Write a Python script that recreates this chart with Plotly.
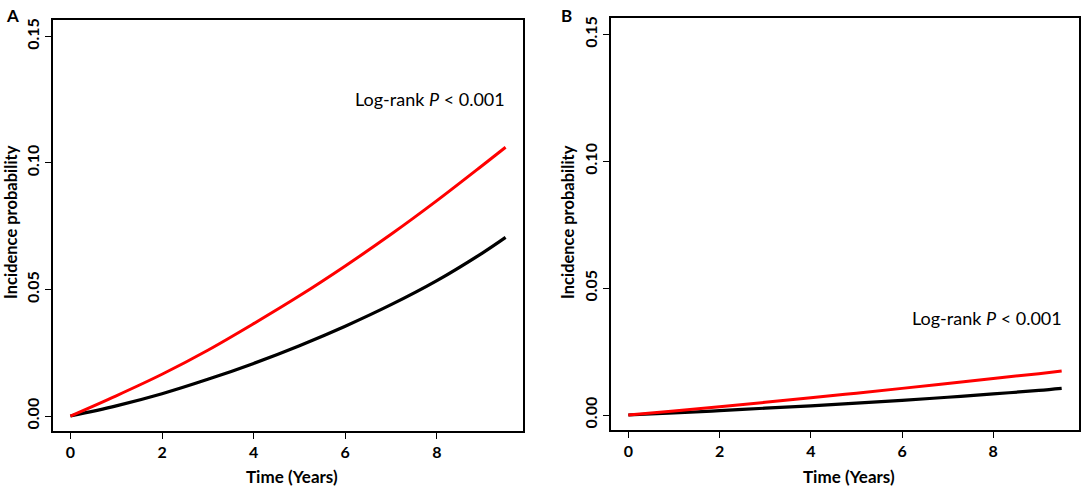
import plotly.graph_objects as go
from plotly.subplots import make_subplots

# Time points (years)
time_years = [0, 1, 2, 3, 4, 5, 6, 7, 8, 9, 9.5]

# Panel A cumulative incidence
a_red = [0, 0.008, 0.0165, 0.026, 0.0365, 0.0475, 0.0593, 0.0718, 0.0851, 0.0991, 0.1062]
a_black = [0, 0.004, 0.0088, 0.0145, 0.0208, 0.0278, 0.0355, 0.044, 0.0535, 0.0645, 0.0706]

# Panel B cumulative incidence
b_red = [0, 0.0016, 0.0033, 0.005, 0.0068, 0.0086, 0.0105, 0.0124, 0.0144, 0.0163, 0.0173]
b_black = [0, 0.0008, 0.0017, 0.0027, 0.0036, 0.0047, 0.0058, 0.007, 0.0083, 0.0097, 0.0105]

x_ticks = [0, 2, 4, 6, 8]
x_tick_labels = ["0", "2", "4", "6", "8"]
y_ticks = [0, 0.05, 0.10, 0.15]
y_tick_labels = ["0.00", "0.05", "0.10", "0.15"]

FONT = "Lato"
W, H = 1084, 487

fig = make_subplots(rows=1, cols=2)

for col, (red, black) in enumerate([(a_red, a_black), (b_red, b_black)], start=1):
    fig.add_trace(go.Scatter(x=time_years, y=black, mode="lines", line=dict(color="black", width=3.2, shape="spline"),
                             showlegend=False), row=1, col=col)
    fig.add_trace(go.Scatter(x=time_years, y=red, mode="lines", line=dict(color="#FF0000", width=3, shape="spline"),
                             showlegend=False), row=1, col=col)

axis_common = dict(showline=True, mirror=True, linecolor="black", linewidth=2, showgrid=False, zeroline=False,
                   ticks="outside", ticklen=6, tickwidth=1.2, tickcolor="black",
                   tickfont=dict(family=FONT, size=16, color="black"))

fig.update_xaxes(range=[-0.38, 9.88], tickvals=x_ticks, ticktext=["<b>%s</b>" % t for t in x_tick_labels],
                 **axis_common)
fig.update_yaxes(range=[-0.006, 0.1565], tickvals=y_ticks, ticktext=["<b>%s</b>" % t for t in y_tick_labels],
                 tickangle=-90, **axis_common)


def fx(x):
    return x / W


def fy(y):
    return 1 - y / H


fig.update_layout(xaxis=dict(domain=[fx(53), fx(523)]), xaxis2=dict(domain=[fx(611), fx(1079)]),
                  yaxis=dict(domain=[fy(431), fy(18)]), yaxis2=dict(domain=[fy(430), fy(16)]))


def px(x, y):
    return dict(x=fx(x), y=fy(y), xref="paper", yref="paper", showarrow=False,
                xanchor="center", yanchor="middle")


annos = [
    dict(text="<b>A</b>", font=dict(size=17, family=FONT, color="black"), **px(12, 14)),
    dict(text="<b>B</b>", font=dict(size=17, family=FONT, color="black"), **px(566, 14)),
    dict(text="Log-rank <i>P</i> &lt; 0.001", font=dict(size=18, family=FONT, color="black"), **px(430, 97)),
    dict(text="Log-rank <i>P</i> &lt; 0.001", font=dict(size=18, family=FONT, color="black"), **px(987, 317)),
    dict(text="<b>Time (Years)</b>", font=dict(size=17, family=FONT, color="black"), **px(292, 476)),
    dict(text="<b>Time (Years)</b>", font=dict(size=17, family=FONT, color="black"), **px(849, 476)),
    dict(text="<b>Incidence probability</b>", textangle=-90, font=dict(size=16.5, family=FONT, color="black"),
         **px(11, 221)),
    dict(text="<b>Incidence probability</b>", textangle=-90, font=dict(size=16.5, family=FONT, color="black"),
         **px(568, 221)),
]
fig.update_layout(annotations=annos)

fig.update_layout(width=W, height=H, margin=dict(l=0, r=0, t=0, b=0),
                  paper_bgcolor="white", plot_bgcolor="white", font=dict(family=FONT, color="black"))

# drop the page's default body margin so the figure fills the window
fig.write_html("out.html", config={"displayModeBar": False},
               post_script="document.body.style.margin = '0';")
